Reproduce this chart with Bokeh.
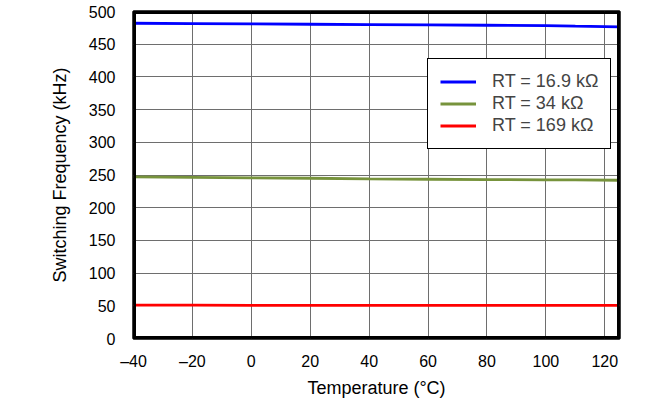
from bokeh.plotting import figure
from bokeh.embed import file_html
from bokeh.resources import INLINE
from bokeh.models import Legend, LegendItem, Title, FixedTicker

temps = [-40, -20, 0, 20, 40, 60, 80, 100, 110, 125]
f_169k = [482, 481.5, 481, 480.5, 480, 479.5, 479, 478.5, 477.5, 476.5]
f_34k = [247, 246.5, 245.5, 245, 244, 243.5, 243, 242.5, 242.5, 242]
f_169 = [51, 51, 50.8, 50.8, 50.7, 50.6, 50.6, 50.5, 50.5, 50.5]
names = ["RT = 16.9 k\u03a9", "RT = 34 k\u03a9", "RT = 169 k\u03a9"]
colors = ["#0000FF", "#77933C", "#FF0000"]
x_ticks = [-40, -20, 0, 20, 40, 60, 80, 100, 120]
y_ticks = [0, 50, 100, 150, 200, 250, 300, 350, 400, 450, 500]
x_lim = [-40, 125]
y_lim = [0, 500]

FONT = "Liberation Sans"

p = figure(frame_width=486, frame_height=327,
           x_range=(x_lim[0], x_lim[1]), y_range=(y_lim[0], y_lim[1]),
           output_backend="svg", toolbar_location=None,
           min_border_left=133, min_border_right=36, min_border_top=11, min_border_bottom=54)

p.outline_line_color = "black"
p.outline_line_width = 2.5

p.xaxis.ticker = FixedTicker(ticks=x_ticks)
p.yaxis.ticker = FixedTicker(ticks=y_ticks)
p.xaxis.major_label_overrides = {t: (("\u2013" + str(-t)) if t < 0 else str(t)) for t in x_ticks}
for ax in (p.xaxis[0], p.yaxis[0]):
    ax.axis_line_color = None
    ax.major_tick_line_color = None
    ax.minor_tick_line_color = None
    ax.major_label_text_font = FONT
    ax.major_label_text_font_size = "16px"
    ax.major_label_text_color = "black"
    ax.axis_label_text_font = FONT
    ax.axis_label_text_font_size = "18px"
    ax.axis_label_text_font_style = "normal"
    ax.axis_label_text_color = "black"
p.xaxis.axis_label = "Temperature (\u00b0C)"
p.yaxis.axis_label = "Switching Frequency (kHz)"
p.xaxis.major_label_standoff = 8
p.xaxis.axis_label_standoff = 5
p.yaxis.major_label_standoff = 12
p.yaxis.axis_label_standoff = 16

p.xgrid.grid_line_color = "#6e6e6e"
p.ygrid.grid_line_color = "#6e6e6e"
p.xgrid.grid_line_width = 1
p.ygrid.grid_line_width = 1

items = []
for ys, name, c in zip([f_169k, f_34k, f_169], names, colors):
    r = p.line(temps, ys, line_color=c, line_width=2.8)
    items.append(LegendItem(label=name, renderers=[r]))

# thick plot frame (drawn as a clipped glyph)
p.quad(left=[x_lim[0]], right=[x_lim[1]], bottom=[y_lim[0]], top=[y_lim[1]],
       fill_alpha=0, line_color="black", line_width=5)

legend = Legend(items=items, location=(294, 189), border_line_color="black",
                border_line_width=1.5, border_line_alpha=1, background_fill_alpha=1,
                label_text_font=FONT, label_text_font_size="18px", label_height=21,
                glyph_height=21, glyph_width=36, spacing=1, padding=12, margin=0,
                label_standoff=16)
p.add_layout(legend, "center")

p.add_layout(Title(text="G009", align="right", offset=-24, standoff=12,
                   text_font=FONT, text_font_size="8px", text_font_style="normal",
                   text_color="#333333"), "below")

open("out.html", "w").write(file_html(p, INLINE))
